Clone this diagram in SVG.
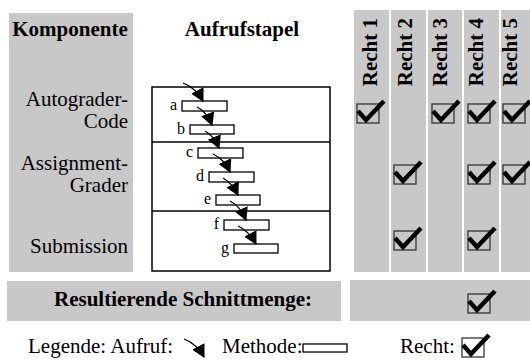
<svg xmlns="http://www.w3.org/2000/svg" width="530" height="360" viewBox="0 0 530 360">
<style>
.bg{fill:#c8c8c8}
.t{font-family:"Liberation Serif","Times New Roman",serif;font-size:21px;fill:#000}
.b{font-weight:bold}
.lbl{font-family:"Liberation Serif","Times New Roman",serif;font-size:16px;fill:#000;text-anchor:end}
.m{fill:#fff;stroke:#000;stroke-width:1.3}
.arr{fill:none;stroke:#000;stroke-width:1.3;marker-end:url(#ah)}
.box{fill:none;stroke:#333;stroke-width:1.3}
.chk{fill:none;stroke:#000;stroke-width:4.5;stroke-linejoin:miter;stroke-linecap:butt}
</style>
<defs>
<marker id="ah" markerUnits="userSpaceOnUse" viewBox="0 -7 13 14" markerWidth="13" markerHeight="14" refX="12" refY="0" orient="auto">
<path d="M0,-7 L13,0 L0,7 z" fill="#000"/>
</marker>
<g id="ck">
<rect class="box" x="0" y="0" width="22" height="19"/>
<path class="chk" d="M1,7 L9,16 L27,-3"/>
</g>
</defs>

<g id="panel-left">
<rect class="bg" x="9" y="13" width="124" height="259"/>
<text class="t b" x="70" y="36" text-anchor="middle">Komponente</text>
<text class="t" x="128" y="106" text-anchor="end">Autograder-</text>
<text class="t" x="128" y="128" text-anchor="end">Code</text>
<text class="t" x="128" y="170" text-anchor="end">Assignment-</text>
<text class="t" x="128" y="192" text-anchor="end">Grader</text>
<text class="t" x="128" y="253" text-anchor="end">Submission</text>
</g>

<g id="header-stack">
<text class="t b" x="242" y="36" text-anchor="middle">Aufrufstapel</text>
</g>

<g id="stack">
<rect x="152" y="87" width="178" height="184" fill="#fff" stroke="#000" stroke-width="1.5"/>
<line x1="152" y1="142" x2="330" y2="142" stroke="#000" stroke-width="1.5"/>
<line x1="152" y1="211" x2="330" y2="211" stroke="#000" stroke-width="1.5"/>
</g>

<g id="method-a"><rect class="m" x="182" y="101" width="45" height="10"/><text class="lbl" x="177" y="110">a</text></g>
<g id="method-b"><rect class="m" x="190" y="125" width="44" height="9"/><text class="lbl" x="185" y="134">b</text></g>
<g id="method-c"><rect class="m" x="198" y="148" width="45" height="10"/><text class="lbl" x="193" y="157">c</text></g>
<g id="method-d"><rect class="m" x="209" y="172" width="45" height="10"/><text class="lbl" x="204" y="181">d</text></g>
<g id="method-e"><rect class="m" x="216" y="195" width="44" height="10"/><text class="lbl" x="211" y="204">e</text></g>
<g id="method-f"><rect class="m" x="224" y="220" width="45" height="10"/><text class="lbl" x="219" y="229">f</text></g>
<g id="method-g"><rect class="m" x="234" y="244" width="44" height="9"/><text class="lbl" x="229" y="253">g</text></g>

<g id="connectors">
<path class="arr" d="M183,83 Q196,88 203,101"/>
<path class="arr" d="M197,107 Q207,112 212,125"/>
<path class="arr" d="M205,131 Q214,136 219,148"/>
<path class="arr" d="M213,154 Q224,159 230,172"/>
<path class="arr" d="M223,178 Q232,183 238,195"/>
<path class="arr" d="M230,201 Q240,206 246,220"/>
<path class="arr" d="M238,226 Q249,231 256,244"/>
</g>

<g id="col-1">
<rect class="bg" x="354" y="10" width="35" height="262"/>
<text class="t b" transform="translate(377,18) rotate(-90)" text-anchor="end">Recht 1</text>
<use href="#ck" x="357" y="104"/>
</g>
<g id="col-2">
<rect class="bg" x="391" y="10" width="35" height="262"/>
<text class="t b" transform="translate(412,18) rotate(-90)" text-anchor="end">Recht 2</text>
<use href="#ck" x="394" y="165"/>
<use href="#ck" x="394" y="231"/>
</g>
<g id="col-3">
<rect class="bg" x="428" y="10" width="34" height="262"/>
<text class="t b" transform="translate(447,18) rotate(-90)" text-anchor="end">Recht 3</text>
<use href="#ck" x="432" y="104"/>
</g>
<g id="col-4">
<rect class="bg" x="464" y="10" width="35" height="262"/>
<text class="t b" transform="translate(483,18) rotate(-90)" text-anchor="end">Recht 4</text>
<use href="#ck" x="468" y="104"/>
<use href="#ck" x="468" y="165"/>
<use href="#ck" x="468" y="231"/>
</g>
<g id="col-5">
<rect class="bg" x="501" y="10" width="29" height="262"/>
<text class="t b" transform="translate(517,18) rotate(-90)" text-anchor="end">Recht 5</text>
<use href="#ck" x="503" y="104"/>
<use href="#ck" x="503" y="165"/>
</g>

<g id="result">
<rect class="bg" x="7" y="281" width="334" height="40"/>
<text class="t b" x="183" y="306" text-anchor="middle">Resultierende Schnittmenge:</text>
<rect class="bg" x="350" y="280" width="180" height="41"/>
<use href="#ck" x="468" y="294"/>
</g>

<g id="legend">
<text class="t" x="28" y="353">Legende:  Aufruf:</text>
<path class="arr" d="M184,339 Q197,344 204,357"/>
<text class="t" x="222" y="353">Methode:</text>
<rect class="m" x="303" y="344" width="44" height="8"/>
<text class="t" x="400" y="353">Recht:</text>
<use href="#ck" x="462" y="338"/>
</g>
</svg>
